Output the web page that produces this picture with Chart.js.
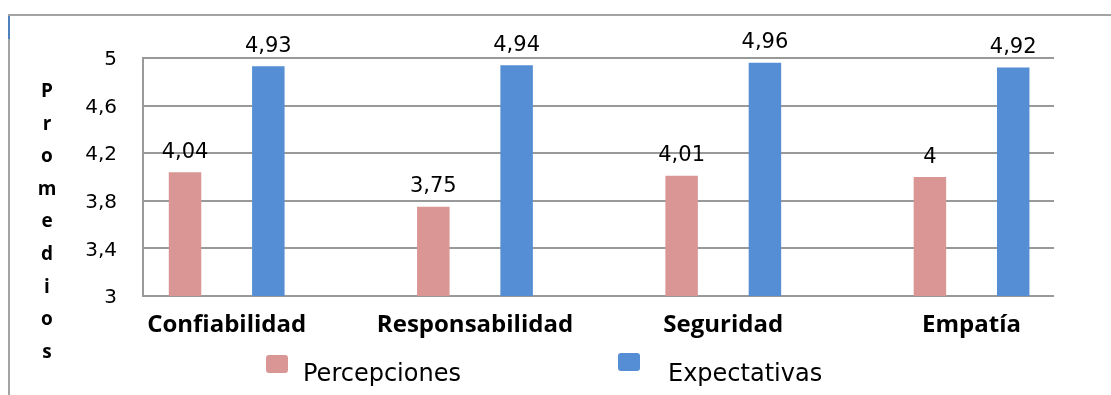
<!DOCTYPE html>
<html lang="es">
<head>
<meta charset="UTF-8">
<title>Percepciones y expectativas</title>
<script src="https://cdn.jsdelivr.net/npm/chart.js@4.4.1/dist/chart.umd.min.js"></script>
<style>
    html, body { margin: 0; padding: 0; background: #fff; }
    #grafico { display: block; }
</style>
</head>
<body>
<canvas id="grafico" width="1111" height="395"></canvas>
<script>
// datos del gráfico
const categorias = ['Confiabilidad', 'Responsabilidad', 'Seguridad', 'Empatía'];
const percepciones = [4.04, 3.75, 4.01, 4];
const expectativas = [4.93, 4.94, 4.96, 4.92];
const ticksY = [3, 3.4, 3.8, 4.2, 4.6, 5];

// número con coma decimal (4.93 -> "4,93")
function conComa(v) {
    return String(Math.round(v * 100) / 100).replace('.', ',');
}

// marco, título vertical, etiquetas de valor y leyenda
const extras = {
    id: 'extras',
    beforeDraw(chart) {
        const ctx = chart.ctx;
        ctx.save();
        ctx.fillStyle = '#fff';
        ctx.fillRect(0, 0, chart.width, chart.height);
        // marco exterior (arriba e izquierda)
        ctx.strokeStyle = '#a3a3a3';
        ctx.lineWidth = 2;
        ctx.beginPath();
        ctx.moveTo(9, chart.height);
        ctx.lineTo(9, 15);
        ctx.lineTo(chart.width, 15);
        ctx.stroke();
        ctx.strokeStyle = '#4f81bd';
        ctx.beginPath();
        ctx.moveTo(9, 16);
        ctx.lineTo(9, 39);
        ctx.stroke();
        ctx.restore();
    },
    afterDraw(chart) {
        const ctx = chart.ctx;
        ctx.save();
        ctx.fillStyle = '#000';
        ctx.textBaseline = 'alphabetic';

        // valor encima de cada barra
        ctx.font = '21px "DejaVu Sans"';
        ctx.textAlign = 'center';
        chart.data.datasets.forEach((ds, i) => {
            chart.getDatasetMeta(i).data.forEach((bar, j) => {
                ctx.fillText(conComa(ds.data[j]), bar.x, bar.y - 14.5);
            });
        });

        // título del eje Y, una letra por renglón
        ctx.font = 'bold 19px "Open Sans"';
        'Promedios'.split('').forEach((letra, i) => {
            ctx.fillText(letra, 47, 97 + i * 32.6);
        });

        // leyenda abajo
        const leyenda = [
            { caja: 266, cajaY: 355, texto: 303 },
            { caja: 618, cajaY: 353, texto: 668 }
        ];
        ctx.font = '24px "DejaVu Sans"';
        ctx.textAlign = 'left';
        chart.data.datasets.forEach((ds, i) => {
            const p = leyenda[i];
            ctx.fillStyle = ds.backgroundColor;
            ctx.beginPath();
            ctx.roundRect(p.caja, p.cajaY, 22, 18, 3);
            ctx.fill();
            ctx.fillStyle = '#000';
            ctx.fillText(ds.label, p.texto, 381);
        });
        ctx.restore();
    }
};

new Chart(document.getElementById('grafico'), {
    type: 'bar',
    data: {
        labels: categorias,
        datasets: [
            { label: 'Percepciones', data: percepciones, backgroundColor: '#d99694' },
            { label: 'Expectativas', data: expectativas, backgroundColor: '#558ed5' }
        ]
    },
    plugins: [extras],
    options: {
        responsive: false,
        animation: false,
        layout: { padding: { top: 58, right: 57, left: 0, bottom: 0 } },
        datasets: {
            bar: { categoryPercentage: 0.671, barPercentage: 0.39 }
        },
        plugins: {
            legend: { display: false },
            tooltip: { enabled: false }
        },
        scales: {
            x: {
                grid: { display: false },
                border: { display: false },
                ticks: {
                    color: '#000',
                    font: { family: 'Open Sans', size: 24, weight: 'bold' },
                    padding: 7,
                    maxRotation: 0,
                    autoSkip: false
                },
                // las categorías no quedan centradas en el área: se corre el rango
                afterBuildTicks: (axis) => {
                    axis._startValue = -0.337;
                    axis._valueRange = 3.669;
                },
                afterFit: (axis) => {
                    axis.height = 99;
                    axis.paddingLeft = 0;
                    axis.paddingRight = 0;
                }
            },
            y: {
                min: 3,
                max: 5,
                afterBuildTicks: (axis) => { axis.ticks = ticksY.map(v => ({ value: v })); },
                grid: { color: '#999', lineWidth: 2, drawTicks: false },
                border: { color: '#999', width: 2 },
                ticks: {
                    color: '#000',
                    font: { family: 'DejaVu Sans', size: 20 },
                    padding: 26,
                    labelOffset: 2,
                    callback: (v) => conComa(v)
                },
                afterFit: (axis) => { axis.width = 143; }
            }
        }
    }
});
</script>
</body>
</html>
